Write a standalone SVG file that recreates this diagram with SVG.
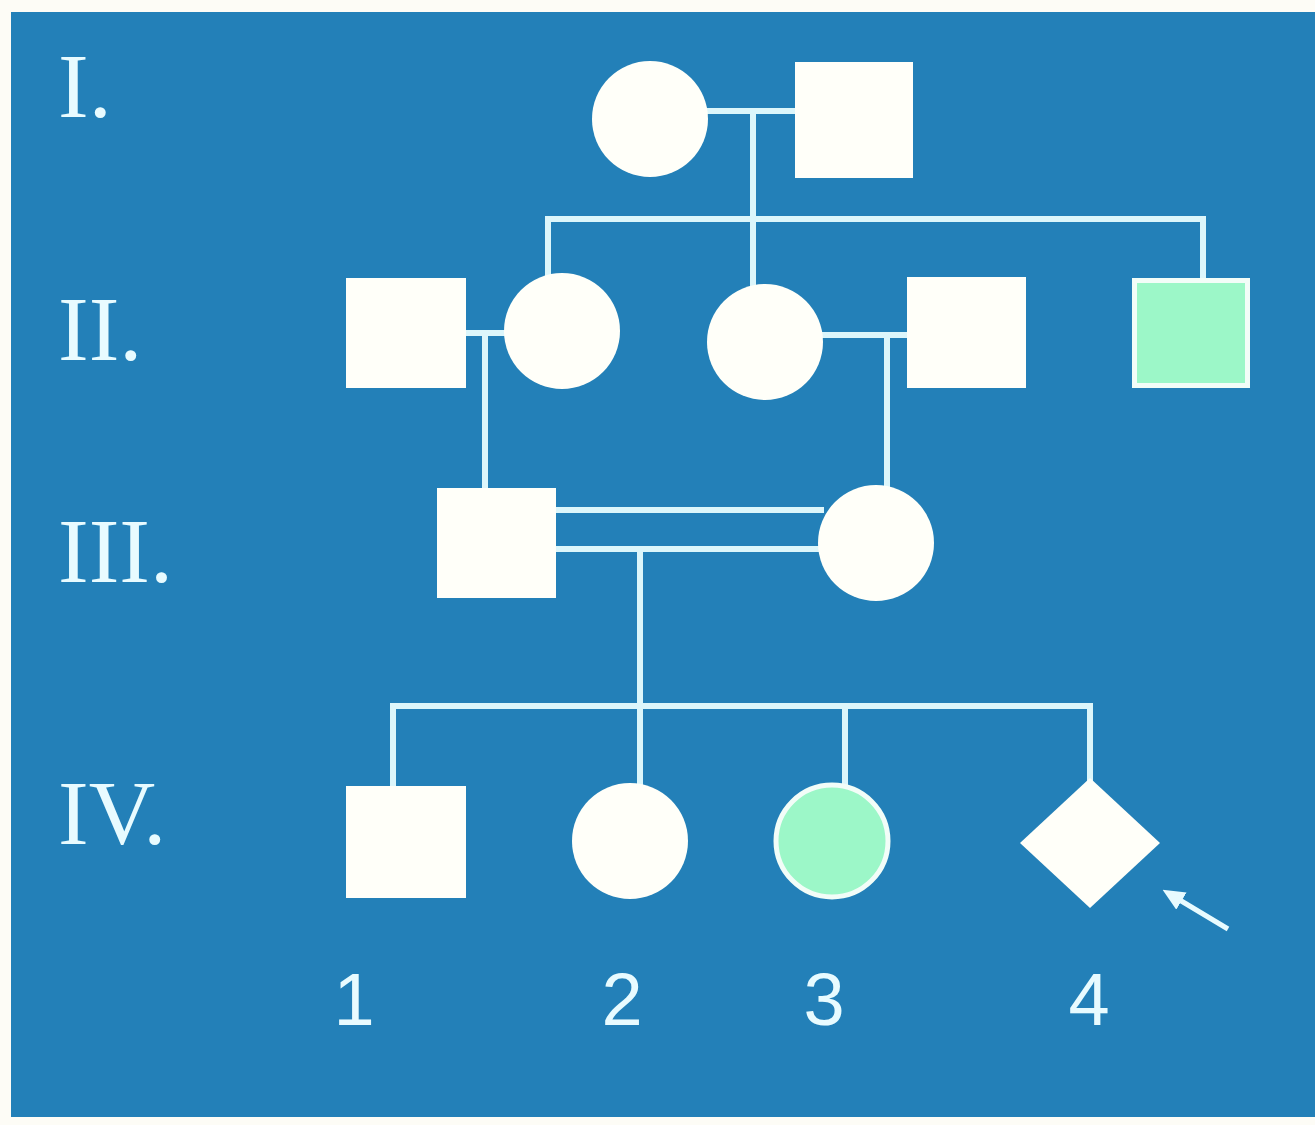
<svg xmlns="http://www.w3.org/2000/svg" width="1315" height="1125" viewBox="0 0 1315 1125">
<defs>
<style>
.bg{fill:#fdfcf6}
.panel{fill:#2380b8}
.ln{stroke:#dcf6fb;stroke-width:6;fill:none}
.nd{fill:#fffff9}
.aff{fill:#9cf7c8;stroke:#f2fdf8;stroke-width:5}
.gen{font-family:"Liberation Serif",serif;font-size:92px;fill:#e8fbff}
.num{font-family:"Liberation Sans",sans-serif;font-size:74px;fill:#e8fbff;text-anchor:middle}
</style>
<marker id="ah" markerWidth="22" markerHeight="20" refX="4" refY="10" orient="auto-start-reverse" markerUnits="userSpaceOnUse" viewBox="0 0 22 20">
<path d="M0,0 L22,10 L0,20 z" fill="#e8fbff"/>
</marker>
</defs>
<rect class="bg" x="0" y="0" width="1315" height="1125"/>
<rect class="panel" x="11" y="12" width="1304" height="1105"/>

<g id="labels">
<text class="gen" x="58" y="117">I.</text>
<text class="gen" x="58" y="360">II.</text>
<text class="gen" x="58" y="582">III.</text>
<text class="gen" x="58" y="844">IV.</text>
<text class="num" x="354" y="1025">1</text>
<text class="num" x="622" y="1025">2</text>
<text class="num" x="824" y="1025">3</text>
<text class="num" x="1089" y="1025">4</text>
</g>

<g id="connectors">
<line class="ln" x1="706" y1="111" x2="797" y2="111"/>
<line class="ln" x1="753" y1="111" x2="753" y2="287"/>
<polyline class="ln" points="548,278 548,219 1203,219 1203,280"/>
<line class="ln" x1="464" y1="333" x2="506" y2="333"/>
<line class="ln" x1="485" y1="333" x2="485" y2="490"/>
<line class="ln" x1="821" y1="335" x2="909" y2="335"/>
<line class="ln" x1="887" y1="335" x2="887" y2="490"/>
<line class="ln" x1="554" y1="510" x2="824" y2="510"/>
<line class="ln" x1="554" y1="549" x2="822" y2="549"/>
<line class="ln" x1="640" y1="549" x2="640" y2="788"/>
<polyline class="ln" points="393,788 393,706 1090,706 1090,782"/>
<line class="ln" x1="845" y1="706" x2="845" y2="788"/>
<line stroke="#e8fbff" stroke-width="5" x1="1228" y1="929" x2="1178" y2="899" marker-end="url(#ah)"/>
</g>

<g id="I-1"><circle class="nd" cx="650" cy="119" r="58"/></g>
<g id="I-2"><rect class="nd" x="795" y="62" width="118" height="116"/></g>

<g id="II-1"><rect class="nd" x="346" y="278" width="120" height="110"/></g>
<g id="II-2"><circle class="nd" cx="562" cy="331" r="58"/></g>
<g id="II-3"><circle class="nd" cx="765" cy="342" r="58"/></g>
<g id="II-4"><rect class="nd" x="907" y="277" width="119" height="111"/></g>
<g id="II-5"><rect class="aff" x="1134.5" y="280.5" width="113" height="105"/></g>

<g id="III-1"><rect class="nd" x="437" y="488" width="119" height="110"/></g>
<g id="III-2"><circle class="nd" cx="876" cy="543" r="58"/></g>

<g id="IV-1"><rect class="nd" x="346" y="786" width="120" height="112"/></g>
<g id="IV-2"><circle class="nd" cx="630" cy="841" r="58"/></g>
<g id="IV-3"><circle class="aff" cx="832" cy="841" r="56"/></g>
<g id="IV-4"><polygon class="nd" points="1090,778 1160,843 1090,908 1020,843"/></g>
</svg>
